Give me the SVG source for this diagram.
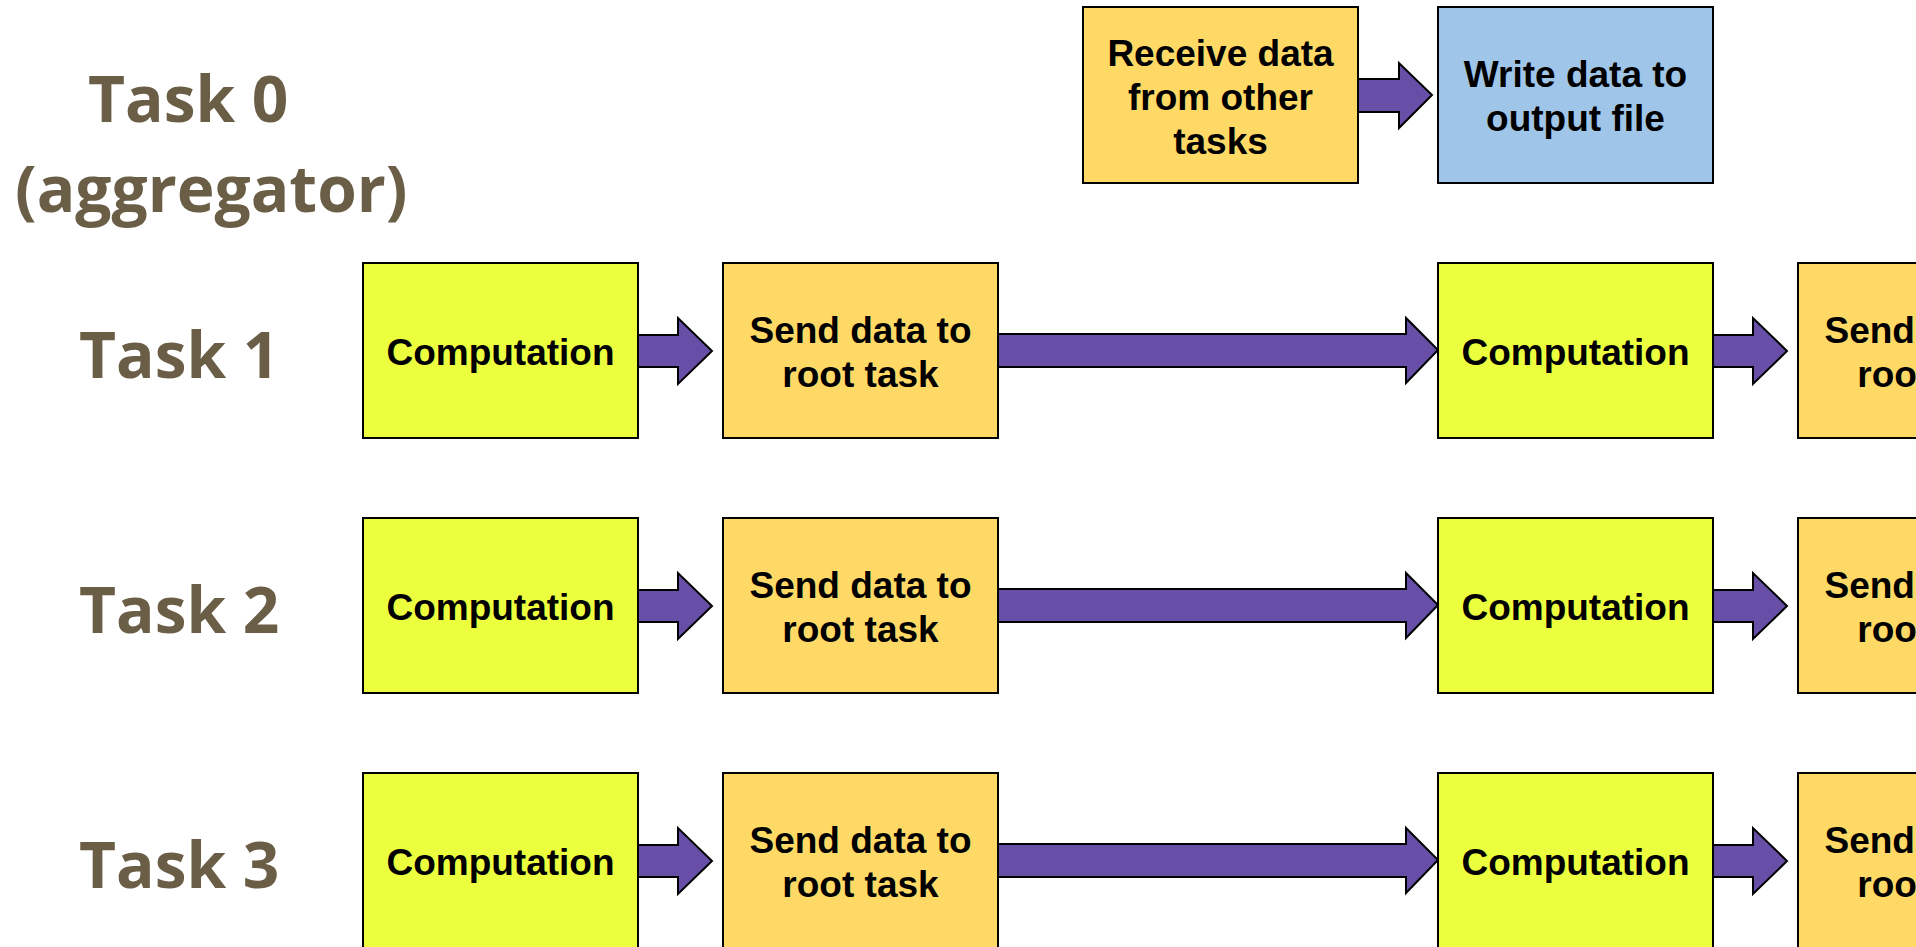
<svg xmlns="http://www.w3.org/2000/svg" width="1916" height="947" viewBox="0 0 1916 947">
  <style>
    .lane { font-family: "Open Sans", "DejaVu Sans", sans-serif; font-weight: 700; font-size: 64px; fill: #6b5e47; }
    .box { stroke: #000; stroke-width: 2; }
    .compute { fill: #ebff3f; }
    .send { fill: #fed966; }
    .write { fill: #9fc5e8; }
    .lbl { font-family: "Liberation Sans", Arial, sans-serif; font-weight: 700; font-size: 37px; fill: #000; text-anchor: middle; }
    .arrow { fill: #674ea7; stroke: #000; stroke-width: 2; stroke-linejoin: miter; }
  </style>

  <rect width="1916" height="947" fill="#fff"/>

  <!-- lane labels -->
  <g id="lane-labels">
    <text class="lane" x="88" y="122">Task 0</text>
    <text class="lane" x="15" y="212">(aggregator)</text>
    <text class="lane" x="79" y="378">Task 1</text>
    <text class="lane" x="79" y="633">Task 2</text>
    <text class="lane" x="79" y="888">Task 3</text>
  </g>

  <!-- connectors: block arrows -->
  <g id="connectors">
    <!-- task 0 -->
    <polygon class="arrow" points="1358,79 1399,79 1399,63 1432,95 1399,128 1399,112 1358,112"/>
    <!-- task 1 -->
    <polygon class="arrow" points="638,335 678,335 678,318 712,351 678,384 678,367 638,367"/>
    <polygon class="arrow" points="998,334 1406,334 1406,318 1438,350 1406,383 1406,367 998,367"/>
    <polygon class="arrow" points="1713,335 1753,335 1753,318 1787,351 1753,384 1753,367 1713,367"/>
    <!-- task 2 -->
    <polygon class="arrow" points="638,590 678,590 678,573 712,606 678,639 678,622 638,622"/>
    <polygon class="arrow" points="998,589 1406,589 1406,573 1438,605 1406,638 1406,622 998,622"/>
    <polygon class="arrow" points="1713,590 1753,590 1753,573 1787,606 1753,639 1753,622 1713,622"/>
    <!-- task 3 -->
    <polygon class="arrow" points="638,845 678,845 678,828 712,861 678,894 678,877 638,877"/>
    <polygon class="arrow" points="998,844 1406,844 1406,828 1438,860 1406,893 1406,877 998,877"/>
    <polygon class="arrow" points="1713,845 1753,845 1753,828 1787,861 1753,894 1753,877 1713,877"/>
  </g>

  <!-- task 0 nodes -->
  <g id="t0-receive">
    <rect class="box send" x="1083" y="7" width="275" height="176"/>
    <text class="lbl" x="1220.5" y="66">Receive data</text>
    <text class="lbl" x="1220.5" y="110">from other</text>
    <text class="lbl" x="1220.5" y="154">tasks</text>
  </g>
  <g id="t0-write">
    <rect class="box write" x="1438" y="7" width="275" height="176"/>
    <text class="lbl" x="1575.5" y="87">Write data to</text>
    <text class="lbl" x="1575.5" y="131">output file</text>
  </g>

  <!-- task 1 nodes -->
  <g id="t1-comp-a">
    <rect class="box compute" x="363" y="263" width="275" height="175"/>
    <text class="lbl" x="500.5" y="365">Computation</text>
  </g>
  <g id="t1-send-a">
    <rect class="box send" x="723" y="263" width="275" height="175"/>
    <text class="lbl" x="860.5" y="343">Send data to</text>
    <text class="lbl" x="860.5" y="387">root task</text>
  </g>
  <g id="t1-comp-b">
    <rect class="box compute" x="1438" y="263" width="275" height="175"/>
    <text class="lbl" x="1575.5" y="365">Computation</text>
  </g>
  <g id="t1-send-b">
    <rect class="box send" x="1798" y="263" width="275" height="175"/>
    <text class="lbl" x="1935.5" y="343">Send data to</text>
    <text class="lbl" x="1935.5" y="387">root task</text>
  </g>

  <!-- task 2 nodes -->
  <g id="t2-comp-a">
    <rect class="box compute" x="363" y="518" width="275" height="175"/>
    <text class="lbl" x="500.5" y="620">Computation</text>
  </g>
  <g id="t2-send-a">
    <rect class="box send" x="723" y="518" width="275" height="175"/>
    <text class="lbl" x="860.5" y="598">Send data to</text>
    <text class="lbl" x="860.5" y="642">root task</text>
  </g>
  <g id="t2-comp-b">
    <rect class="box compute" x="1438" y="518" width="275" height="175"/>
    <text class="lbl" x="1575.5" y="620">Computation</text>
  </g>
  <g id="t2-send-b">
    <rect class="box send" x="1798" y="518" width="275" height="175"/>
    <text class="lbl" x="1935.5" y="598">Send data to</text>
    <text class="lbl" x="1935.5" y="642">root task</text>
  </g>

  <!-- task 3 nodes -->
  <g id="t3-comp-a">
    <rect class="box compute" x="363" y="773" width="275" height="175"/>
    <text class="lbl" x="500.5" y="875">Computation</text>
  </g>
  <g id="t3-send-a">
    <rect class="box send" x="723" y="773" width="275" height="175"/>
    <text class="lbl" x="860.5" y="853">Send data to</text>
    <text class="lbl" x="860.5" y="897">root task</text>
  </g>
  <g id="t3-comp-b">
    <rect class="box compute" x="1438" y="773" width="275" height="175"/>
    <text class="lbl" x="1575.5" y="875">Computation</text>
  </g>
  <g id="t3-send-b">
    <rect class="box send" x="1798" y="773" width="275" height="175"/>
    <text class="lbl" x="1935.5" y="853">Send data to</text>
    <text class="lbl" x="1935.5" y="897">root task</text>
  </g>
</svg>
